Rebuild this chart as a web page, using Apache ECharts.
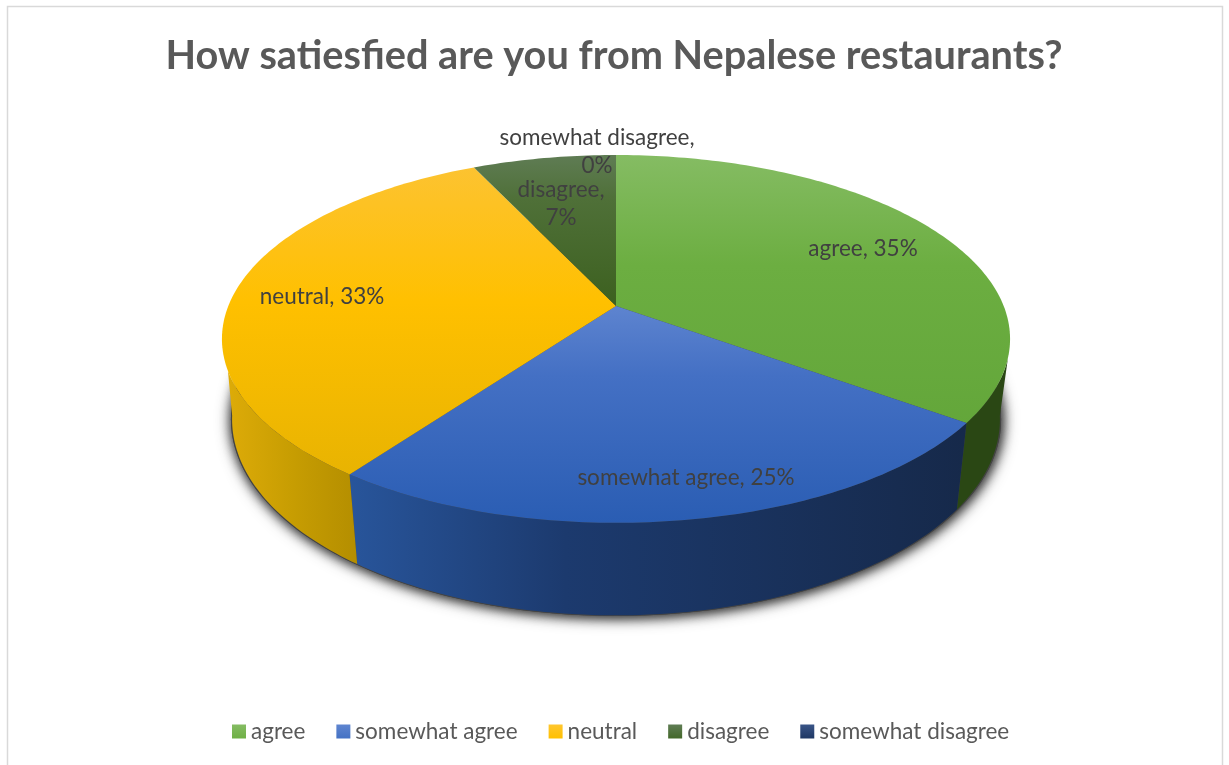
<!DOCTYPE html>
<html>
<head>
<meta charset="utf-8">
<style>html,body{margin:0;padding:0;background:#fff}#chart{width:1229px;height:765px}</style>
<script src="https://cdn.jsdelivr.net/npm/echarts@6/dist/echarts.min.js"></script>
</head>
<body>
<div id="chart"></div>
<script>
// Survey answers and their share in percent
const categories = ['agree', 'somewhat agree', 'neutral', 'disagree', 'somewhat disagree'];
const shares = [35, 25, 33, 7, 0];

// Perspective model of the tilted disc: upper face and lower rim
const cx = 616;
const upper = { apexY: 306, rx: 387.7, ry: 178, k: 0.179 };
const lower = { apexY: 385, rx: 378, ry: 190, k: 0.175 };
// Visible part of the side wall, in degrees clockwise from twelve o'clock
const upperLimits = [106, 250];
const lowerLimits = [99, 261];

function project(face, deg, grow) {
  const a = deg * Math.PI / 180, g = grow || 1;
  const u = Math.sin(a), v = Math.cos(a), w = 1 + face.k * v;
  return [cx + g * face.rx * u / w, face.apexY - g * face.ry * v / w];
}
function arc(face, from, to) {
  const pts = [], n = Math.max(1, Math.ceil(Math.abs(to - from)));
  for (let i = 0; i <= n; i++) pts.push(project(face, from + (to - from) * i / n));
  return pts;
}

const G = echarts.graphic.LinearGradient;
const vertical = stops => new G(0, 155, 0, 523, stops.map(s => ({ offset: s[0], color: s[1] })), true);
const horizontal = stops => new G(0, 0, 1, 0, stops.map(s => ({ offset: s[0], color: s[1] })));

const faceFill = [
  vertical([[0, '#85BC63'], [0.3, '#6CAE41'], [1, '#5EA236']]),
  vertical([[0.4, '#5F85D0'], [0.6, '#4470C4'], [1, '#2A5DB3']]),
  vertical([[0, '#FCC335'], [0.4, '#FFC000'], [1, '#E2B002']]),
  vertical([[0, '#5F7C54'], [0.12, '#4F7038'], [0.4, '#3D6120']]),
  vertical([[0, '#2F4F86'], [1, '#1F3864']])
];
const rimFill = [
  horizontal([[0, '#2A4714'], [1, '#2A4714']]),
  horizontal([[0, '#28559B'], [0.35, '#1C3A6E'], [1, '#16294A']]),
  horizontal([[0, '#DDAB08'], [0.5, '#C79D02'], [1, '#B48E00']]),
  horizontal([[0, '#2A4714'], [1, '#2A4714']]),
  horizontal([[0, '#16294A'], [1, '#16294A']])
];
const legendFill = ['#6FB045', '#4472C4', '#FFC000', '#43682A', '#1F3864'].map((c, i) => {
  const top = ['#85BC63', '#5F85D0', '#FFC62E', '#5F7C54', '#3A5588'][i];
  return new G(0, 0, 0, 1, [{ offset: 0, color: top }, { offset: 1, color: c }]);
});

// Where each data label sits and how it wraps
const labelSpots = [
  { x: 863, y: 249, wrap: false },
  { x: 686, y: 478, wrap: false },
  { x: 322, y: 297, wrap: false },
  { x: 561, y: 204, wrap: true },
  { x: 597, y: 152, wrap: true }
];

function renderSlice(params, api) {
  const i = params.seriesIndex - 1;
  const value = api.value(0);
  const before = shares.slice(0, i).reduce((s, v) => s + v, 0);
  const from = before * 3.6, to = (before + value) * 3.6;
  const children = [];
  const a = Math.max(from, upperLimits[0]), b = Math.min(to, upperLimits[1]);
  if (b > a) {
    const la = from < upperLimits[0] ? lowerLimits[0] : from;
    const lb = to > upperLimits[1] ? lowerLimits[1] : to;
    children.push({
      type: 'polygon',
      shape: { points: arc(upper, a, b).concat(arc(lower, lb, la)) },
      style: { fill: rimFill[i] }
    });
  }
  if (to > from) {
    children.push({
      type: 'polygon',
      shape: { points: [[cx, upper.apexY]].concat(arc(upper, from, to)) },
      style: { fill: faceFill[i] }
    });
  }
  const spot = labelSpots[i];
  children.push({
    type: 'text',
    z2: 50,
    style: {
      text: categories[i] + ',' + (spot.wrap ? '\n' : ' ') + value + '%',
      x: spot.x, y: spot.y, align: 'center', verticalAlign: 'middle',
      fill: '#404040', font: '22.5px Lato', lineHeight: 28
    }
  });
  return { type: 'group', children };
}

// Soft cast shadow around the foot of the disc, built from two stacked blurs
function renderShadow() {
  const pts = [];
  for (let d = 0; d < 360; d += 2) pts.push(project(lower, d, 1.003));
  const layer = blur => ({
    type: 'polygon',
    shape: { points: pts },
    style: { fill: '#444', shadowBlur: blur, shadowColor: '#3a3a3a', shadowOffsetX: 1, shadowOffsetY: 1 }
  });
  return { type: 'group', children: [layer(16), layer(11)] };
}

const series = [{
  type: 'custom', name: 'footprint', coordinateSystem: 'none', silent: true,
  data: [[0]], renderItem: renderShadow, animation: false
}].concat(categories.map((name, i) => ({
  type: 'custom',
  name,
  coordinateSystem: 'none',
  data: [[shares[i]]],
  renderItem: renderSlice,
  itemStyle: { color: legendFill[i] },
  animation: false
})));

const chart = echarts.init(document.getElementById('chart'), null, { renderer: 'canvas' });
chart.setOption({
  backgroundColor: '#fff',
  animation: false,
  title: {
    text: 'How satiesfied are you from Nepalese restaurants?',
    left: 609, textAlign: 'center', top: 31,
    textStyle: { fontFamily: 'Lato', fontWeight: 'bold', fontSize: 39.7, color: '#595959' }
  },
  legend: {
    data: categories.map((name, i) => ({ name, icon: 'rect', itemStyle: { color: legendFill[i] } })),
    left: 232, top: 720, padding: 0,
    itemWidth: 14, itemHeight: 14, itemGap: 31,
    textStyle: { fontFamily: 'Lato', fontSize: 22.5, color: '#595959' },
    selectedMode: false
  },
  graphic: [{
    type: 'rect', silent: true, z: -1,
    shape: { x: 7.5, y: 6.5, width: 1215, height: 800 },
    style: { fill: 'none', stroke: '#D9D9D9', lineWidth: 1.5 }
  }],
  series
});
</script>
</body>
</html>
